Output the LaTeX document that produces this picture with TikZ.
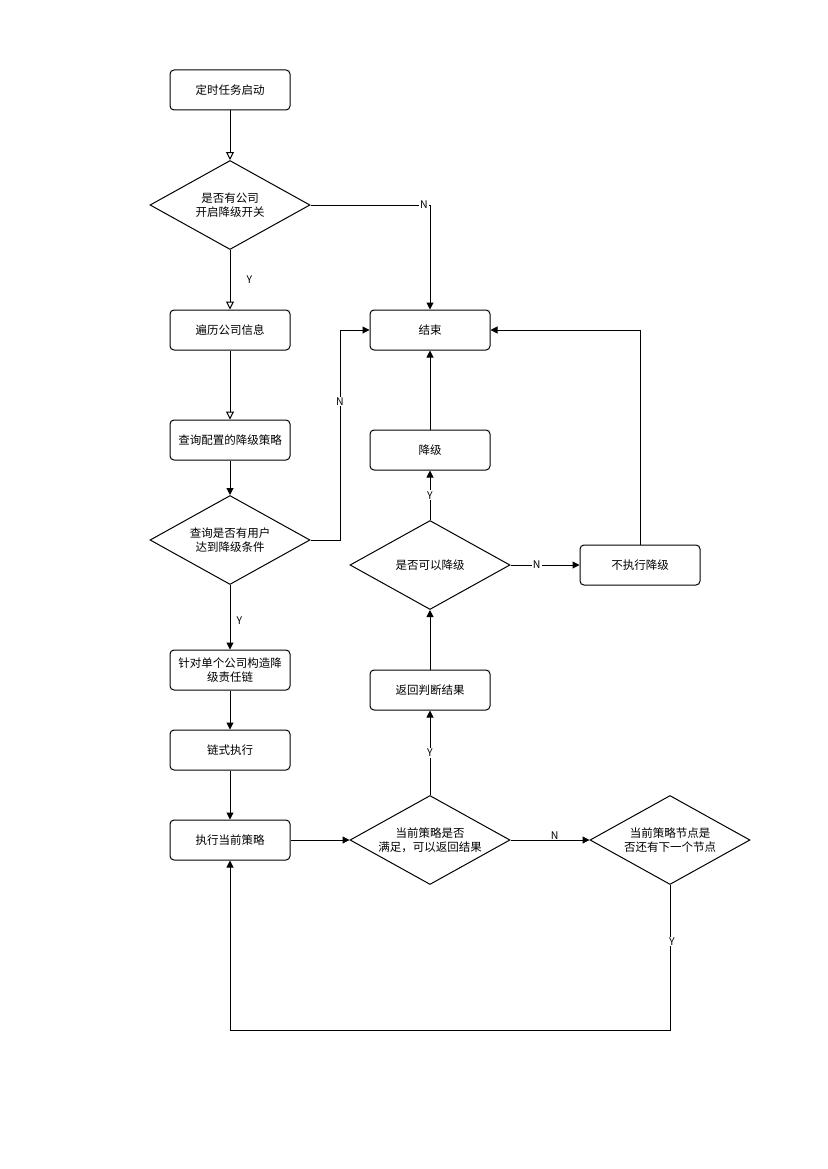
\documentclass[tikz,border=0pt]{standalone}
\usepackage{fontspec}
\setmainfont{Noto Sans CJK SC}
\usetikzlibrary{shapes.geometric,arrows.meta}
\begin{document}
\begin{tikzpicture}[x=1pt,y=-1pt,
  font=\fontsize{11.5}{14}\selectfont,
  box/.style={draw,rounded corners=4pt,minimum width=120pt,minimum height=40pt,inner sep=1pt,align=center,line width=1pt},
  dia/.style={draw,diamond,aspect=1.78,minimum width=160pt,minimum height=89pt,inner sep=0pt,align=center,line width=1pt},
  link/.style={line width=1pt,-{Triangle[length=7pt,width=7pt]}},
  olink/.style={line width=1pt,-{Triangle[open,length=8pt,width=8pt,fill=white]}},
  lab/.style={font=\fontsize{10.5}{12}\selectfont,inner sep=1pt},
  wlab/.style={lab,fill=white}]
\path[use as bounding box] (0,0) rectangle (827,1169);
\node[box] (start) at (230,90) {定时任务启动};
\node[dia] (d1) at (230,205) {是否有公司\\开启降级开关};
\node[box] (trav) at (230,330) {遍历公司信息};
\node[box] (end) at (430,330) {结束};
\node[box] (query) at (230,440) {查询配置的降级策略};
\node[dia] (d2) at (230,540) {查询是否有用户\\达到降级条件};
\node[box] (down) at (430,450) {降级};
\node[dia] (d3) at (430,565) {是否可以降级};
\node[box] (nodown) at (640,565) {不执行降级};
\node[box] (build) at (230,670) {针对单个公司构造降\\级责任链};
\node[box] (ret) at (430,690) {返回判断结果};
\node[box] (chain) at (230,750) {链式执行};
\node[box] (exec) at (230,840) {执行当前策略};
\node[dia] (d4) at (430,840) {当前策略是否\\满足，可以返回结果};
\node[dia] (d5) at (670,840) {当前策略节点是\\否还有下一个节点};
\coordinate (c2) at (340,540);
\coordinate (c5) at (670,1030);

\draw[olink] (start) -- (d1);
\draw[olink] (d1) -- node[lab,right,xshift=15pt,pos=0.5] {Y} (trav);
\draw[link] (d1.east) -| node[wlab,pos=0.5,xshift=-6pt] {N} (end.north);
\draw[olink] (trav) -- (query);
\draw[link] (query) -- (d2);
\draw[link] (d2.east) -- (c2) |- node[wlab,pos=0.33] {N} (end.west);
\draw[link] (d2) -- node[lab,right,xshift=5pt,pos=0.55] {Y} (build);
\draw[link] (build) -- (chain);
\draw[link] (chain) -- (exec);
\draw[link] (exec) -- (d4);
\draw[link] (d4) -- node[wlab,pos=0.5] {Y} (ret);
\draw[link] (ret) -- (d3);
\draw[link] (d3) -- node[wlab,pos=0.5] {Y} (down);
\draw[link] (down) -- (end);
\draw[link] (d3) -- node[wlab,pos=0.38] {N} (nodown);
\draw[link] (nodown.north) |- (end.east);
\draw[link] (d4) -- node[lab,pos=0.56,yshift=4pt] {N} (d5);
\draw[link] (d5.south) -- node[wlab,pos=0.39,xshift=2pt] {Y} (c5) -| (exec.south);
\end{tikzpicture}
\end{document}
